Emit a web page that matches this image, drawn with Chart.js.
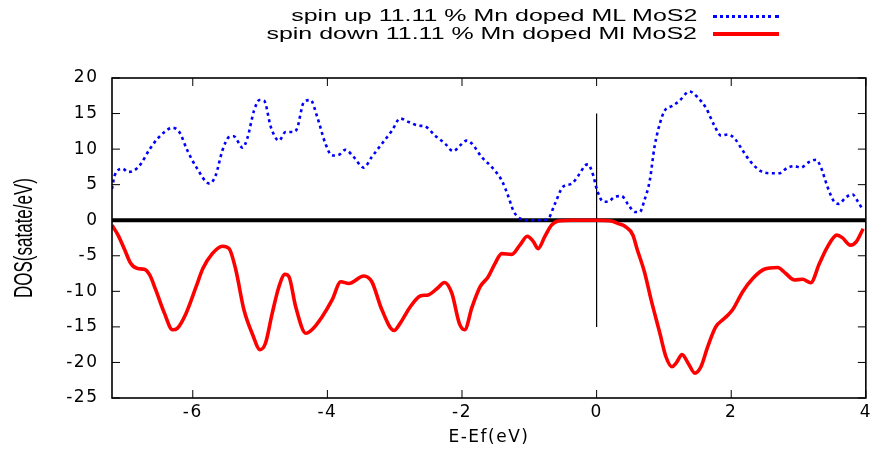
<!DOCTYPE html>
<html>
<head>
<meta charset="utf-8">
<script src="https://cdn.jsdelivr.net/npm/chart.js@4.4.1/dist/chart.umd.min.js"></script>
<style>
  body { margin: 0; background: #fff; }
  #wrap { position: relative; width: 876px; height: 455px; }
  .key-row { position: absolute; right: 179px; height: 18px; line-height: 18px;
             font-family: 'Liberation Sans', Arial, sans-serif; font-size: 16px; color: #000; white-space: nowrap; }
  .key-row span { display: inline-block; transform: scaleX(1.56); transform-origin: right center; }
  .key-line { position: absolute; left: 713px; width: 66px; height: 0; }
  #ytitle { position: absolute; left: 24px; top: 238px; white-space: nowrap;
            font-family: 'Liberation Sans', Arial, sans-serif; font-size: 17px; color: #000;
            transform: translate(-50%, -50%) rotate(-90deg) scaleY(1.5); }
</style>
</head>
<body>
<div id="wrap">
  <canvas id="dos-chart" width="876" height="455"></canvas>
  <div class="key-row" style="top:7px"><span>spin up 11.11 % Mn doped ML MoS2</span></div>
  <div class="key-line" style="top:15px; border-top: 3px dotted #0000ff;"></div>
  <div class="key-row" style="top:25px"><span>spin down 11.11 % Mn doped Ml MoS2</span></div>
  <div class="key-line" style="top:32px; border-top: 4px solid #ff0000;"></div>
  <div id="ytitle">DOS(satate/eV)</div>
</div>
<script>
// spin up (blue dotted)
const upEnergy = [-7.20, -7.16, -7.04, -6.97, -6.87, -6.77, -6.64, -6.50, -6.30, -6.20,
  -6.08, -5.95, -5.75, -5.66, -5.56, -5.46, -5.39, -5.26, -5.19, -5.09,
  -5.01, -4.94, -4.84, -4.72, -4.62, -4.52, -4.45, -4.35, -4.25, -4.15,
  -4.03, -3.93, -3.83, -3.73, -3.61, -3.46, -3.34, -3.19, -3.04, -2.92,
  -2.79, -2.64, -2.55, -2.40, -2.25, -2.13, -2.03, -1.93, -1.85, -1.71,
  -1.56, -1.41, -1.31, -1.24, -1.14, -1.00, -0.82, -0.72, -0.62, -0.50,
  -0.37, -0.27, -0.17, -0.13, -0.05, 0.00, 0.10, 0.17, 0.27, 0.37,
  0.47, 0.57, 0.64, 0.71, 0.79, 0.86, 0.94, 1.01, 1.13, 1.23,
  1.38, 1.50, 1.63, 1.75, 1.85, 1.95, 2.05, 2.17, 2.29, 2.44,
  2.59, 2.71, 2.84, 2.94, 3.03, 3.16, 3.26, 3.33, 3.43, 3.53,
  3.60, 3.70, 3.80, 3.87, 3.96];
const upDos = [4.4, 6.3, 7.25, 6.8, 7.0, 7.95, 10.0, 11.7, 13.0, 12.4,
  9.8, 7.5, 5.15, 6.3, 9.8, 11.7, 11.8, 10.2, 11.5, 15.4,
  16.9, 16.8, 13.1, 11.2, 12.4, 12.4, 12.9, 16.6, 16.9, 14.5,
  10.8, 9.1, 9.2, 9.9, 8.9, 7.4, 8.9, 10.75, 12.6, 14.3,
  13.8, 13.3, 13.2, 11.9, 10.75, 9.7, 10.5, 11.2, 10.75, 8.9,
  7.5, 5.6, 3.3, 1.4, 0.25, 0, 0, 0.2, 2.3, 4.7,
  5.15, 6.3, 7.7, 7.85, 6.3, 4.45, 2.6, 2.6, 3.3, 3.4,
  2.2, 1.15, 1.15, 2.8, 5.6, 10.3, 13.6, 15.4, 16.1, 16.8,
  18.1, 17.3, 15.7, 13.3, 11.9, 12.05, 11.5, 9.8, 8.2, 6.9,
  6.6, 6.6, 7.4, 7.6, 7.4, 8.2, 8.5, 7.5, 4.7, 2.6,
  2.3, 3.2, 3.65, 2.8, 1.4];

// spin down (red solid)
const downEnergy = [-7.20, -7.11, -7.01, -6.92, -6.82, -6.72, -6.64, -6.55, -6.42, -6.30,
  -6.23, -6.10, -5.95, -5.85, -5.71, -5.56, -5.46, -5.36, -5.24, -5.11,
  -5.00, -4.92, -4.82, -4.72, -4.63, -4.57, -4.47, -4.32, -4.23, -4.08,
  -3.93, -3.80, -3.68, -3.46, -3.34, -3.19, -3.01, -2.92, -2.77, -2.62,
  -2.50, -2.37, -2.26, -2.15, -2.04, -1.96, -1.85, -1.73, -1.61, -1.51,
  -1.41, -1.26, -1.14, -1.03, -0.94, -0.87, -0.77, -0.67, -0.57, -0.37,
  0.00, 0.22, 0.32, 0.42, 0.54, 0.60, 0.71, 0.81, 0.94, 1.03,
  1.12, 1.18, 1.27, 1.36, 1.46, 1.55, 1.65, 1.77, 1.90, 2.02,
  2.17, 2.32, 2.49, 2.69, 2.81, 2.94, 3.06, 3.18, 3.31, 3.43,
  3.57, 3.65, 3.77, 3.86, 3.96];
const downDos = [-0.7, -2.1, -4.2, -6.1, -6.8, -6.9, -7.7, -9.8, -13.1, -15.4,
  -15.2, -13.1, -9.35, -6.8, -4.7, -3.65, -4.0, -7.0, -12.6, -16.1,
  -18.2, -17.3, -13.1, -9.35, -7.6, -7.95, -12.2, -15.9, -15.4, -13.6,
  -11.2, -8.65, -8.9, -7.85, -8.65, -12.6, -15.5, -14.5, -12.2, -10.65,
  -10.5, -9.6, -8.75, -10.3, -14.5, -15.4, -12.2, -9.35, -7.95, -6.1,
  -4.7, -4.8, -3.5, -2.25, -3.0, -4.0, -2.3, -0.7, -0.1, 0,
  0, -0.1, -0.47, -0.85, -2.1, -4.0, -7.25, -11.2, -15.9, -19.2,
  -20.6, -20.1, -18.9, -20.1, -21.5, -20.6, -17.8, -15.0, -13.8, -12.6,
  -10.05, -8.2, -6.9, -6.65, -7.5, -8.4, -8.3, -8.8, -6.1, -3.75,
  -2.1, -2.45, -3.5, -3.0, -1.2];

// reference lines
const zeroLineX = [-7.2, 4];
const fermiLineY = [15, -15];

const xTicks = [-6, -4, -2, 0, 2, 4];
const yTicks = [20, 15, 10, 5, 0, -5, -10, -15, -20, -25];

const tickFont = { family: 'DejaVu Sans', size: 17 };

// gnuplot-like wide text
const textSpacing = {
  id: 'textSpacing',
  beforeUpdate(chart) { chart.ctx.letterSpacing = '1.5px'; },
  beforeDraw(chart) { chart.ctx.letterSpacing = '1.5px'; }
};

// frame with inward ticks on all four sides
const frameTicks = {
  id: 'frameTicks',
  afterDatasetsDraw(chart) {
    const { ctx, chartArea: a, scales: { x, y } } = chart;
    ctx.save();
    ctx.strokeStyle = '#000';
    ctx.lineWidth = 1;
    ctx.beginPath();
    x.ticks.forEach(t => {
      const px = x.getPixelForValue(t.value);
      ctx.moveTo(px, a.bottom); ctx.lineTo(px, a.bottom - 8);
      ctx.moveTo(px, a.top); ctx.lineTo(px, a.top + 8);
    });
    y.ticks.forEach(t => {
      const py = y.getPixelForValue(t.value);
      ctx.moveTo(a.left, py); ctx.lineTo(a.left + 8, py);
      ctx.moveTo(a.right, py); ctx.lineTo(a.right - 8, py);
    });
    ctx.stroke();
    ctx.lineWidth = 1.6;
    ctx.strokeRect(a.left, a.top, a.right - a.left, a.bottom - a.top);
    ctx.restore();
  }
};

new Chart(document.getElementById('dos-chart'), {
  type: 'line',
  data: {
    datasets: [
      {
        label: 'spin up 11.11 % Mn doped ML MoS2',
        data: upEnergy.map((e, i) => ({ x: e, y: upDos[i] })),
        borderColor: '#0000ff',
        borderWidth: 2.6,
        borderDash: [3, 3.5],
        pointRadius: 0,
        cubicInterpolationMode: 'monotone',
        order: 1
      },
      {
        label: 'spin down 11.11 % Mn doped Ml MoS2',
        data: downEnergy.map((e, i) => ({ x: e, y: downDos[i] })),
        borderColor: '#ff0000',
        borderWidth: 3.6,
        pointRadius: 0,
        cubicInterpolationMode: 'monotone',
        order: 2
      },
      {
        label: 'fermi',
        data: fermiLineY.map(v => ({ x: 0, y: v })),
        borderColor: '#000',
        borderWidth: 1.2,
        pointRadius: 0,
        order: 3
      },
      {
        label: 'zero',
        data: zeroLineX.map(v => ({ x: v, y: 0 })),
        borderColor: '#000',
        borderWidth: 4,
        pointRadius: 0,
        order: 4
      }
    ]
  },
  options: {
    responsive: false,
    animation: false,
    layout: { padding: { top: 78, right: 10, left: 0, bottom: 0 } },
    plugins: {
      legend: { display: false },
      tooltip: { enabled: false }
    },
    scales: {
      x: {
        type: 'linear',
        min: -7.2,
        max: 4,
        afterBuildTicks: s => { s.ticks = xTicks.map(v => ({ value: v })); },
        afterFit: s => { s.height = 57; },
        grid: { display: false, drawTicks: false },
        border: { display: false },
        ticks: { color: '#000', font: tickFont, padding: 4, maxRotation: 0, autoSkip: false,
                 callback: v => String(v) },
        title: { display: true, text: 'E-Ef(eV)', color: '#000', font: tickFont,
                 padding: { top: 0, bottom: 7 } }
      },
      y: {
        type: 'linear',
        min: -25,
        max: 20,
        afterBuildTicks: s => { s.ticks = yTicks.map(v => ({ value: v })); },
        afterFit: s => { s.width = 112; },
        grid: { display: false, drawTicks: false },
        border: { display: false },
        ticks: { color: '#000', font: tickFont, padding: 13.5, autoSkip: false,
                 callback: v => String(v) }
      }
    }
  },
  plugins: [textSpacing, frameTicks]
});
</script>
</body>
</html>
